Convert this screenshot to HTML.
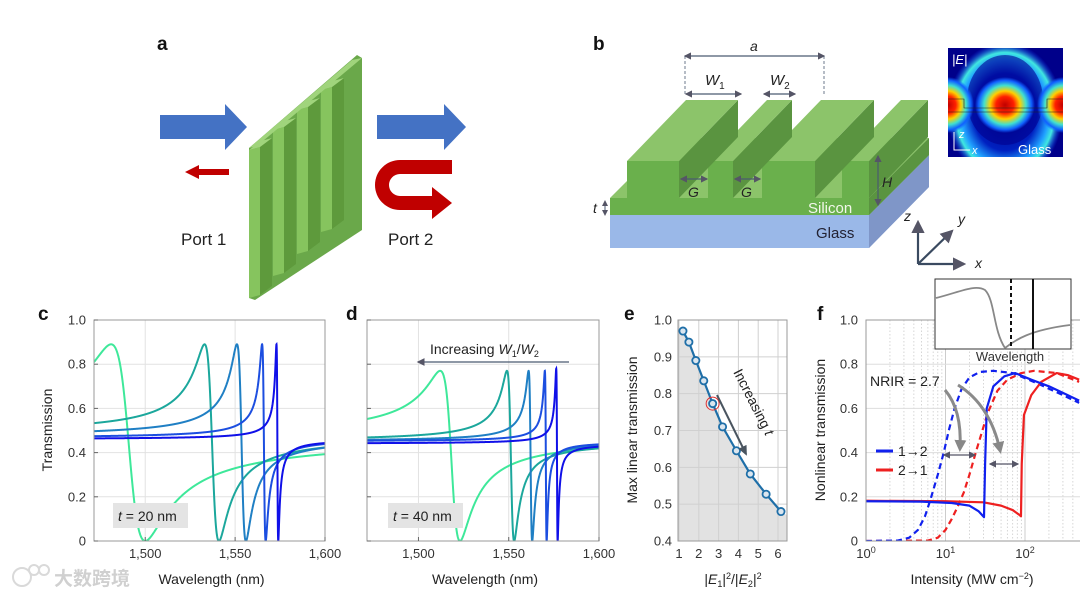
<!DOCTYPE html>
<html><head><meta charset="utf-8">
<style>
html,body{margin:0;padding:0;background:#fff;}
svg{display:block;font-family:"Liberation Sans","Noto Sans CJK SC",sans-serif;}
.tk{font-size:13px;fill:#333;}
.ttl{font-size:14px;fill:#222;}
.pl{font-size:19px;font-weight:bold;fill:#111;}
</style></head>
<body>
<svg id="fig" width="1080" height="596" viewBox="0 0 1080 596" xmlns="http://www.w3.org/2000/svg">
<defs>
  <marker id="ah" markerUnits="userSpaceOnUse" markerWidth="10" markerHeight="10" refX="8" refY="5" orient="auto"><path d="M0,0.5 L10,5 L0,9.5 z" fill="#4a5560"/></marker>
  <marker id="ahg" markerUnits="userSpaceOnUse" markerWidth="12" markerHeight="12" refX="8" refY="6" orient="auto"><path d="M0,0 L12,6 L0,12 z" fill="#888"/></marker>
  <marker id="ahs" markerWidth="6" markerHeight="6" refX="5" refY="3" orient="auto"><path d="M0,0 L6,3 L0,6 z" fill="#556"/></marker>
  <marker id="ahs2" markerWidth="6" markerHeight="6" refX="1" refY="3" orient="auto"><path d="M6,0 L0,3 L6,6 z" fill="#556"/></marker>
  <radialGradient id="hot" cx="0.5" cy="0.5" r="0.5">
    <stop offset="0" stop-color="#c00000"/><stop offset="0.3" stop-color="#ff2000"/><stop offset="0.5" stop-color="#ffd000"/><stop offset="0.7" stop-color="#40e0d0"/><stop offset="0.88" stop-color="#1060ff"/><stop offset="1" stop-color="#1060ff" stop-opacity="0"/>
  </radialGradient>
  <radialGradient id="arch" cx="0.5" cy="0.5" r="0.5">
    <stop offset="0" stop-color="#000080"/><stop offset="0.55" stop-color="#0020c0"/><stop offset="0.75" stop-color="#20a0ff"/><stop offset="0.85" stop-color="#40e8e0"/><stop offset="1" stop-color="#1040ff" stop-opacity="0"/>
  </radialGradient>
  <clipPath id="clipHeat"><rect x="948" y="48" width="115" height="109"/></clipPath>
  <clipPath id="clipC"><rect x="94" y="320" width="231" height="221"/></clipPath>
  <clipPath id="clipD"><rect x="367" y="320" width="232" height="221"/></clipPath>
  <clipPath id="clipF"><rect x="866" y="320" width="214" height="221"/></clipPath>
</defs>

<text class="pl" x="157" y="50">a</text>
<text class="pl" x="593" y="50">b</text>
<text class="pl" x="38" y="320">c</text>
<text class="pl" x="346" y="320">d</text>
<text class="pl" x="624" y="320">e</text>
<text class="pl" x="817" y="320">f</text>

<g>
  <path d="M160,115 L225,115 L225,104 L247,127 L225,150 L225,139 L160,139 z" fill="#4472c4"/>
  <path d="M377,115 L444,115 L444,104 L466,127 L444,150 L444,139 L377,139 z" fill="#4472c4"/>
  <path d="M229,169 L199,169 L199,165 L185,172 L199,179 L199,175 L229,175 z" fill="#c00000"/>
  <path d="M452,160 L400,160 A25,25 0 0 0 400,210 L432,210 L432,219 L452,203 L432,187 L432,196 L400,196 A11,11 0 0 1 400,174 L452,174 z" fill="#c00000"/>
  <g id="fins"></g>
  <text x="181" y="245" font-size="17" fill="#222">Port 1</text>
  <text x="388" y="245" font-size="17" fill="#222">Port 2</text>
</g>

<g>
  <polygon points="610,215 869,215 929,155 929,187 869,248 610,248" fill="#9ab8e8"/>
  <polygon points="869,215 929,155 929,187 869,248" fill="#7f96c8"/>
  <polygon points="610,198 869,198 929,138 929,155 869,215 610,215" fill="#6ab04c"/>
  <polygon points="610,198 670,138 929,138 869,198" fill="#8cc46a"/>
  <polygon points="869,198 929,138 929,155 869,215" fill="#5a9440"/>
  <g id="ridges"></g>
  <text x="808" y="213" font-size="15" fill="#f2f7ea">Silicon</text>
  <text x="816" y="238" font-size="15" fill="#223">Glass</text>
  <line x1="685" y1="56" x2="824" y2="56" stroke="#4a5a70" stroke-width="1.2" marker-end="url(#ahs)" marker-start="url(#ahs2)"/>
  <line x1="685" y1="56" x2="685" y2="95" stroke="#4a5a70" stroke-dasharray="3,2" stroke-width="0.8"/>
  <line x1="824" y1="56" x2="824" y2="95" stroke="#4a5a70" stroke-dasharray="3,2" stroke-width="0.8"/>
  <text x="750" y="51" font-size="14" font-style="italic" fill="#222">a</text>
  <line x1="686" y1="94" x2="741" y2="94" stroke="#4a5a70" stroke-width="1.2" marker-end="url(#ahs)" marker-start="url(#ahs2)"/>
  <line x1="764" y1="94" x2="795" y2="94" stroke="#4a5a70" stroke-width="1.2" marker-end="url(#ahs)" marker-start="url(#ahs2)"/>
  <text x="705" y="85" font-size="15" font-style="italic" fill="#222">W<tspan font-size="10" dy="4" font-style="normal">1</tspan></text>
  <text x="770" y="85" font-size="15" font-style="italic" fill="#222">W<tspan font-size="10" dy="4" font-style="normal">2</tspan></text>
  <line x1="681" y1="179" x2="707" y2="179" stroke="#4a5a70" stroke-width="1.2" marker-end="url(#ahs)" marker-start="url(#ahs2)"/>
  <line x1="735" y1="179" x2="760" y2="179" stroke="#4a5a70" stroke-width="1.2" marker-end="url(#ahs)" marker-start="url(#ahs2)"/>
  <text x="688" y="197" font-size="14" font-style="italic" fill="#222">G</text>
  <text x="741" y="197" font-size="14" font-style="italic" fill="#222">G</text>
  <line x1="878" y1="156" x2="878" y2="205" stroke="#4a5a70" stroke-width="1.2" marker-end="url(#ahs)" marker-start="url(#ahs2)"/>
  <text x="882" y="187" font-size="14" font-style="italic" fill="#222">H</text>
  <line x1="605" y1="201" x2="605" y2="215" stroke="#4a5a70" stroke-width="1" marker-end="url(#ahs)" marker-start="url(#ahs2)"/>
  <text x="593" y="213" font-size="14" font-style="italic" fill="#222">t</text>
  <g>
    <line x1="918" y1="264" x2="918" y2="222" stroke="#3a4a60" stroke-width="2.2" marker-end="url(#ahs)"/>
    <line x1="918" y1="264" x2="964" y2="264" stroke="#3a4a60" stroke-width="2.2" marker-end="url(#ahs)"/>
    <line x1="918" y1="264" x2="952" y2="231" stroke="#3a4a60" stroke-width="2.2" marker-end="url(#ahs)"/>
    <text x="904" y="221" font-size="14" font-style="italic" fill="#222">z</text>
    <text x="958" y="224" font-size="14" font-style="italic" fill="#222">y</text>
    <text x="975" y="268" font-size="14" font-style="italic" fill="#222">x</text>
  </g>
  <g clip-path="url(#clipHeat)">
    <rect x="948" y="48" width="115" height="109" fill="#00008a"/>
    <ellipse cx="1005" cy="112" rx="58" ry="70" fill="url(#arch)"/>
    <ellipse cx="1005" cy="100" rx="38" ry="45" fill="#000090" opacity="0.6"/>
    <ellipse cx="1005" cy="105" rx="30" ry="28" fill="url(#hot)"/>
    <ellipse cx="948" cy="105" rx="26" ry="28" fill="url(#hot)"/>
    <ellipse cx="1063" cy="105" rx="26" ry="28" fill="url(#hot)"/>
    <path d="M948,99 L964,99 L964,108 L1047,108 L1047,99 L1063,99 M948,112 L1063,112" stroke="#222" stroke-width="0.6" fill="none"/>
    <text x="952" y="64" font-size="13" font-style="italic" fill="#fff">|E|</text>
    <text x="1018" y="154" font-size="13" fill="#fff">Glass</text>
    <path d="M954,132 L954,150 L970,150" stroke="#fff" stroke-width="1" fill="none"/>
    <text x="959" y="138" font-size="11" font-style="italic" fill="#fff">z</text>
    <text x="972" y="154" font-size="11" font-style="italic" fill="#fff">x</text>
  </g>
</g>

<g id="chartC"></g>
<g id="chartD"></g>
<g id="chartE"></g>
<g id="chartF"></g>

<g opacity="0.55">
  <circle cx="22" cy="577" r="9" fill="none" stroke="#bbb" stroke-width="2"/>
  <circle cx="34" cy="570" r="5" fill="none" stroke="#bbb" stroke-width="2"/>
  <circle cx="44" cy="570" r="5" fill="none" stroke="#bbb" stroke-width="2"/>
  <text x="54" y="585" font-size="19" fill="#aaa" font-weight="bold">大数跨境</text>
</g>
</svg>

<script>
const cPeakWl=[1481,1533,1551,1565,1573];
const cDipWl=[1500,1541,1556,1567,1574];
const cPeakT=[0.89,0.89,0.89,0.89,0.89];
const cBase=[0.47,0.48,0.47,0.465,0.46];
const dPeakWl=[1512,1549,1561,1570,1576.3];
const dDipWl=[1523,1553,1563,1571,1577.1];
const dPeakT=[0.77,0.77,0.77,0.77,0.78];
const dBase=[0.47,0.45,0.45,0.45,0.44];
const curveColors=["#3ee89a","#1ba79c","#1f7fc4","#1c4ee0","#1010e8"];
const wlTicks=[1500,1550,1600];
const wlTickLabels=["1,500","1,550","1,600"];
const tTicks=[0,0.2,0.4,0.6,0.8,1.0];
const tTickLabels=["0","0.2","0.4","0.6","0.8","1.0"];

const eX=[1.2,1.5,1.85,2.25,2.7,3.2,3.9,4.6,5.4,6.15];
const eY=[0.97,0.94,0.89,0.835,0.773,0.71,0.645,0.582,0.527,0.48];
const eXTicks=[1,2,3,4,5,6];
const eYTicks=[0.4,0.5,0.6,0.7,0.8,0.9,1.0];
const eYTickLabels=["0.4","0.5","0.6","0.7","0.8","0.9","1.0"];

const fBlueSolidI=[1,5,12,20,26,30.5,31.5,33,40,55,75,120,200,300,480];
const fBlueSolidT=[0.18,0.178,0.172,0.16,0.135,0.108,0.35,0.6,0.7,0.745,0.76,0.73,0.7,0.67,0.635];
const fRedSolidI=[1,10,30,50,70,85,89,91,97,120,160,250,350,480];
const fRedSolidT=[0.182,0.18,0.175,0.16,0.14,0.118,0.112,0.35,0.57,0.66,0.72,0.76,0.75,0.73];
const fBlueDashI=[1,2.5,3.5,4.5,5.5,6.5,8,9.5,11,13,16,20,27,40,70,150,300,480];
const fBlueDashT=[0,0.002,0.015,0.05,0.11,0.19,0.3,0.4,0.5,0.6,0.69,0.74,0.765,0.77,0.76,0.71,0.66,0.625];
const fRedDashI=[1,6,8,10,12,14,17,20,24,28,34,45,60,90,130,250,480];
const fRedDashT=[0,0.002,0.015,0.05,0.1,0.15,0.22,0.3,0.4,0.48,0.58,0.68,0.73,0.76,0.77,0.76,0.72];
const fXTicks=[1,10,100];
const fXExp=["0","1","2"];

const NS="http://www.w3.org/2000/svg";
function mk(parent,tag,attrs){const e=document.createElementNS(NS,tag);for(const k in attrs)e.setAttribute(k,attrs[k]);parent.appendChild(e);return e;}

(function(){
  const g=document.getElementById('fins');
  const bp=mk(g,'polygon',{points:"249,148 357,55 362,58 362,230 255,300 249,298",fill:"#6aa84a"});
  
  
  for(let k=3;k>=0;k--){
    const x0=249+k*24, top=150-k*20, bot=298-k*22;
    const fr=mk(g,'polygon',{points:`${x0},${top} ${x0+11},${top-3} ${x0+11},${bot-3} ${x0},${bot}`,fill:"#86c45e"});
    
    
    const sd=mk(g,'polygon',{points:`${x0+11},${top-3} ${x0+23},${top-12} ${x0+23},${bot-12} ${x0+11},${bot-3}`,fill:"#5e9a3c"});
    
    
    const tp=mk(g,'polygon',{points:`${x0},${top} ${x0+11},${top-3} ${x0+23},${top-12} ${x0+12},${top-9}`,fill:"#a0d47c"});
    
    
  }
  const edge=mk(g,'polygon',{points:"249,148 352,60 362,58 257,146",fill:"#a0d47c"});
  
  
})();

(function(){
  const g=document.getElementById('ridges');
  const rx=[[627,679],[708,733],[762,815],[842,869]];
  for(let i=rx.length-1;i>=0;i--){
    const a=rx[i][0],b=rx[i][1];const dx=59,dy=-61,ty=161,by=198;
    const side=mk(g,'polygon',{points:`${b},${ty} ${b+dx},${ty+dy} ${b+dx},${by+dy} ${b},${by}`,fill:"#5a9440"});
    
    
    const top=mk(g,'polygon',{points:`${a},${ty} ${b},${ty} ${b+dx},${ty+dy} ${a+dx},${ty+dy}`,fill:"#8cc46a"});
    
    
    const fr=mk(g,'rect',{x:a,y:ty,width:b-a,height:by-ty,fill:"#6ab04c"});
    
    
  }
})();

function fano(l,peak,dip,peakT,base){
  const q=Math.sqrt(peakT/base-1);
  const gam=(dip-peak)/(q+1/q);
  const l0=dip-gam*q;
  const e=(l-l0)/gam;
  return base*(e-q)*(e-q)/(1+e*e);
}
function spectral(gid,L,R,peaks,dips,pts,bases,showY,clip){
  const g=document.getElementById(gid);
  const T=320,B=541;
  const xs=v=>L+(v-1471.5)/128.5*(R-L);
  const ys=v=>B-v*(B-T);
  for(const v of tTicks){const ln=mk(g,'line',{x1:L,x2:R,y1:ys(v),y2:ys(v),stroke:"#e2e2e2","stroke-width":1});
    
    }
  for(const v of wlTicks){const ln=mk(g,'line',{x1:xs(v),x2:xs(v),y1:T,y2:B,stroke:"#e2e2e2","stroke-width":1});
    
    }
  const cg=mk(g,'g',{"clip-path":"url(#"+clip+")"});
  for(let i=0;i<peaks.length;i++){
    let d="";
    for(let s=0;s<=3000;s++){const l=1471.5+s*(128.5/3000);const v=fano(l,peaks[i],dips[i],pts[i],bases[i]);
      d+=(s?"L":"M")+xs(l).toFixed(2)+","+ys(v).toFixed(2);}
    const p=mk(cg,'path',{d:d,fill:"none",stroke:curveColors[i],"stroke-width":2});
    
    
  }
  const fr=mk(g,'rect',{x:L,y:T,width:R-L,height:B-T,fill:"none",stroke:"#999","stroke-width":1});
  
  
  for(let i=0;i<tTicks.length;i++){
    const tk=mk(g,'line',{x1:L,x2:L+4,y1:ys(tTicks[i]),y2:ys(tTicks[i]),stroke:"#666"});
    
    
    if(showY){const t=mk(g,'text',{x:L-8,y:ys(tTicks[i])+4.5,"text-anchor":"end",class:"tk"});t.textContent=tTickLabels[i];
      
      }
  }
  for(let i=0;i<wlTicks.length;i++){
    const tk=mk(g,'line',{x1:xs(wlTicks[i]),x2:xs(wlTicks[i]),y1:B,y2:B-4,stroke:"#666"});
    
    
    const t=mk(g,'text',{x:xs(wlTicks[i]),y:B+17,"text-anchor":"middle",class:"tk"});t.textContent=wlTickLabels[i];
    
    
  }
  const xt=mk(g,'text',{x:(L+R)/2+2,y:584,"text-anchor":"middle",class:"ttl"});xt.textContent="Wavelength (nm)";
  
  
}
spectral('chartC',94,325,cPeakWl,cDipWl,cPeakT,cBase,true,'clipC');
spectral('chartD',367,599,dPeakWl,dDipWl,dPeakT,dBase,false,'clipD');
(function(){
  const g=document.getElementById('chartC');
  const yt=mk(g,'text',{x:0,y:0,"text-anchor":"middle",class:"ttl",transform:"translate(52,430) rotate(-90)"});yt.textContent="Transmission";
  
  
  const bx=mk(g,'rect',{x:113,y:503,width:75,height:25,fill:"#e4e4e4"});
  
  
  const t=mk(g,'text',{x:118,y:521,class:"ttl"});t.innerHTML='<tspan font-style="italic">t</tspan> = 20 nm';
  
  
  const gd=document.getElementById('chartD');
  const bx2=mk(gd,'rect',{x:388,y:503,width:75,height:25,fill:"#e4e4e4"});
  
  
  const t2=mk(gd,'text',{x:393,y:521,class:"ttl"});t2.innerHTML='<tspan font-style="italic">t</tspan> = 40 nm';
  
  
  const t3=mk(gd,'text',{x:430,y:354,class:"ttl"});t3.innerHTML='Increasing <tspan font-style="italic">W</tspan><tspan font-size="9" dy="3">1</tspan><tspan dy="-3">/</tspan><tspan font-style="italic">W</tspan><tspan font-size="9" dy="3">2</tspan>';
  
  
  const ar=mk(gd,'line',{x1:569,y1:362,x2:418,y2:362,stroke:"#4a5a70","stroke-width":1.3,"marker-end":"url(#ahs)"});
  
  
})();

(function(){
  const g=document.getElementById('chartE');
  const L=678,R=787,T=320,B=541;
  const xs=v=>679+(v-1)*19.8;
  const ys=v=>B-(v-0.4)/0.6*(B-T);
  let area="M"+L+","+ys(eY[0]+0.005);
  for(let i=0;i<eX.length;i++) area+="L"+xs(eX[i])+","+ys(eY[i]);
  area+="L"+R+","+ys(eY[eY.length-1]-0.01)+"L"+R+","+B+"L"+L+","+B+"Z";
  const ar=mk(g,'path',{d:area,fill:"#e2e2e2"});
  
  
  for(const v of eYTicks){const ln=mk(g,'line',{x1:L,x2:R,y1:ys(v),y2:ys(v),stroke:"#d0d0d0"});
    
    }
  for(const v of eXTicks){const ln=mk(g,'line',{x1:xs(v),x2:xs(v),y1:T,y2:B,stroke:"#d0d0d0"});
    
    }
  let d="";
  for(let i=0;i<eX.length;i++) d+=(i?"L":"M")+xs(eX[i])+","+ys(eY[i]);
  const ln=mk(g,'path',{d:d,fill:"none",stroke:"#1f6fa8","stroke-width":2.2});
  
  
  for(let i=0;i<eX.length;i++){
    const c=mk(g,'circle',{cx:xs(eX[i]),cy:ys(eY[i]),r:3.6,fill:"#dbe6ef",stroke:"#1f6fa8","stroke-width":1.8});
    
    
  }
  const hc=mk(g,'circle',{cx:xs(eX[4]),cy:ys(eY[4]),r:6.5,fill:"none",stroke:"#e03030","stroke-width":1});
  
  
  const fr=mk(g,'rect',{x:L,y:T,width:R-L,height:B-T,fill:"none",stroke:"#999"});
  
  
  for(let i=0;i<eYTicks.length;i++){const t=mk(g,'text',{x:L-6,y:ys(eYTicks[i])+4.5,"text-anchor":"end",class:"tk"});t.textContent=eYTickLabels[i];
    
    }
  for(const v of eXTicks){const t=mk(g,'text',{x:xs(v),y:558,"text-anchor":"middle",class:"tk"});t.textContent=String(v);
    
    }
  const yt=mk(g,'text',{x:0,y:0,"text-anchor":"middle",class:"ttl",transform:"translate(637,430) rotate(-90)"});yt.textContent="Max linear transmission";
  
  
  const xt=mk(g,'text',{x:733,y:584,"text-anchor":"middle",class:"ttl"});
  xt.innerHTML='|<tspan font-style="italic">E</tspan><tspan font-size="9" dy="3">1</tspan><tspan dy="-3">|</tspan><tspan font-size="9" dy="-5">2</tspan><tspan dy="5">/|</tspan><tspan font-style="italic">E</tspan><tspan font-size="9" dy="3">2</tspan><tspan dy="-3">|</tspan><tspan font-size="9" dy="-5">2</tspan>';
  
  
  const arr=mk(g,'line',{x1:717,y1:395,x2:746,y2:454,stroke:"#4a5560","stroke-width":2,"marker-end":"url(#ah)"});
  
  
  const tt=mk(g,'text',{x:0,y:0,class:"ttl",transform:"translate(733,372) rotate(63)"});tt.innerHTML='Increasing <tspan font-style="italic">t</tspan>';
  
  
})();

(function(){
  const g=document.getElementById('chartF');
  const L=866,R=1080,T=320,B=541;
  const xs=v=>L+Math.log10(v)*79.5;
  const ys=v=>B-v*(B-T);
  for(let dec=0;dec<3;dec++)for(let m=1;m<10;m++){const v=m*Math.pow(10,dec);const x=xs(v);if(x>R)continue;
    const ln=mk(g,'line',{x1:x,x2:x,y1:T,y2:B,stroke:"#ccc","stroke-width":m==1?1:0.8,"stroke-dasharray":m==1?"none":"1.5,2"});
    
    }
  for(const v of tTicks){const ln=mk(g,'line',{x1:L,x2:R,y1:ys(v),y2:ys(v),stroke:"#ddd"});
    
    }
  const cg=mk(g,'g',{"clip-path":"url(#clipF)"});
  function line(I,Tv,col,dash,name){let d="";for(let i=0;i<I.length;i++)d+=(i?"L":"M")+xs(I[i]).toFixed(2)+","+ys(Tv[i]).toFixed(2);
    const p=mk(cg,'path',{d:d,fill:"none",stroke:col,"stroke-width":2.2,"stroke-dasharray":dash,"stroke-linejoin":"round"});
    
    }
  line(fRedDashI,fRedDashT,"#ee2020","6,4",'red-dashed-curve');
  line(fBlueDashI,fBlueDashT,"#1020ee","6,4",'blue-dashed-curve');
  line(fRedSolidI,fRedSolidT,"#ee2020","none",'red-solid-curve');
  line(fBlueSolidI,fBlueSolidT,"#1020ee","none",'blue-solid-curve');
  const fr=mk(g,'path',{d:"M"+R+","+T+"L"+L+","+T+"L"+L+","+B+"L"+R+","+B,fill:"none",stroke:"#999"});
  
  
  for(let i=0;i<tTicks.length;i++){const t=mk(g,'text',{x:L-8,y:ys(tTicks[i])+4.5,"text-anchor":"end",class:"tk"});t.textContent=tTickLabels[i];
    
    }
  for(let i=0;i<fXTicks.length;i++){const t=mk(g,'text',{x:xs(fXTicks[i]),y:558,"text-anchor":"middle",class:"tk"});
    t.innerHTML='10<tspan font-size="9" dy="-5">'+fXExp[i]+'</tspan>';
    
    }
  const yt=mk(g,'text',{x:0,y:0,"text-anchor":"middle",class:"ttl",transform:"translate(825,430) rotate(-90)"});yt.textContent="Nonlinear transmission";
  
  
  const xt=mk(g,'text',{x:972,y:584,"text-anchor":"middle",class:"ttl"});xt.innerHTML='Intensity (MW cm<tspan font-size="9" dy="-5">−2</tspan><tspan dy="5">)</tspan>';
  
  
  const l1=mk(g,'line',{x1:876,x2:893,y1:451,y2:451,stroke:"#1020ee","stroke-width":3});
  
  
  const t1=mk(g,'text',{x:898,y:456,class:"ttl"});t1.textContent="1→2";
  
  
  const l2=mk(g,'line',{x1:876,x2:893,y1:470,y2:470,stroke:"#ee2020","stroke-width":3});
  
  
  const t2=mk(g,'text',{x:898,y:475,class:"ttl"});t2.textContent="2→1";
  
  
  const nr=mk(g,'text',{x:870,y:386,class:"ttl"});nr.textContent="NRIR = 2.7";
  
  
  const a1=mk(g,'path',{d:"M945,390 Q962,410 960,448",fill:"none",stroke:"#8a8a8a","stroke-width":3,"marker-end":"url(#ahg)"});
  
  
  const a2=mk(g,'path',{d:"M958,385 Q990,405 1000,450",fill:"none",stroke:"#8a8a8a","stroke-width":3,"marker-end":"url(#ahg)"});
  
  
  const b1=mk(g,'line',{x1:944,x2:975,y1:455,y2:455,stroke:"#556","stroke-width":1.2,"marker-end":"url(#ahs)","marker-start":"url(#ahs2)"});
  
  
  const b2=mk(g,'line',{x1:990,x2:1018,y1:464,y2:464,stroke:"#556","stroke-width":1.2,"marker-end":"url(#ahs)","marker-start":"url(#ahs2)"});
  
  
  const ib=mk(g,'rect',{x:935,y:279,width:136,height:70,fill:"#fff",stroke:"#333","stroke-width":1});
  
  
  const ic=mk(g,'path',{d:"M936,298 C960,292 975,284 985,290 C995,300 993,330 1005,348 C1015,340 1030,330 1070,325",fill:"none",stroke:"#888","stroke-width":1.8});
  
  
  const iv1=mk(g,'line',{x1:1011,x2:1011,y1:279,y2:349,stroke:"#111","stroke-width":2,"stroke-dasharray":"4,3"});
  
  
  const iv2=mk(g,'line',{x1:1033,x2:1033,y1:279,y2:349,stroke:"#111","stroke-width":2});
  
  
  const il=mk(g,'text',{x:1010,y:361,"text-anchor":"middle","font-size":"13",fill:"#333"});il.textContent="Wavelength";
  
  
})();
</script>
</body></html>
